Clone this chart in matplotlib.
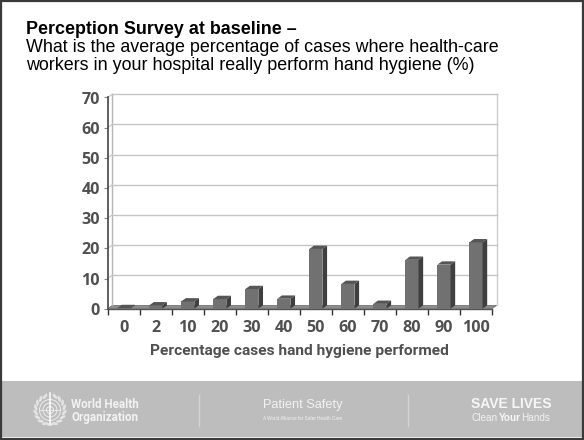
import numpy as np
import matplotlib
matplotlib.use("Agg")
import matplotlib.pyplot as plt
from matplotlib.patches import Rectangle, Circle, Polygon, Ellipse

categories = ['0', '2', '10', '20', '30', '40', '50', '60', '70', '80', '90', '100']
values = [0.2, 1.1, 2.4, 3.2, 6.5, 3.3, 19.8, 8.2, 1.6, 16.2, 14.6, 22.0]
y_ticks = [0, 10, 20, 30, 40, 50, 60, 70]

W, H = 584, 440
DEPTH_X = 0.145   # sideways depth of the 3D look, in category units
DEPTH_Y = 1.1     # upward depth, in percent units
BAR_W = 0.41

fig = plt.figure(figsize=(W / 100, H / 100), dpi=100, facecolor='white')

# slide layer in pixel coordinates
bg = fig.add_axes([0, 0, 1, 1])
bg.set_xlim(0, W)
bg.set_ylim(H, 0)
bg.axis('off')
bg.add_patch(Rectangle((1, 381), W - 2, 56, fc='#bdbdbd', ec='none'))
bg.add_patch(Rectangle((1, 1), W - 2, H - 2, fc='none', ec='#3a3a3a', lw=1.6))
for px in (198.5, 407.5):
    bg.plot([px, px], [395, 426], color='#d4d4d4', lw=1)

sans = 'Liberation Sans'
bg.text(26, 29, 'Perception Survey at baseline \u2013', family=sans, weight='bold',
        fontsize=12.9, va='center', color='black')
bg.text(26, 47, 'What is the average percentage of cases where health-care',
        family=sans, fontsize=12.9, va='center', color='black')
bg.text(26, 65, 'workers in your hospital really perform hand hygiene (%)',
        family=sans, fontsize=12.9, va='center', color='black')

# emblem: wreath, globe and staff
ex, ey = 50, 410
for deg in np.arange(20, 345, 20):
    a = np.radians(deg)
    lx, ly = ex + 14.5 * np.sin(a), ey - 14.5 * np.cos(a)
    bg.add_patch(Ellipse((lx, ly), 2.8, 6.5, angle=deg - 90 + 30 * np.sign(180 - deg),
                         fc='#e4e4e4', ec='none'))
for r in (10.5, 7, 3.5):
    bg.add_patch(Circle((ex, ey), r, fc='none', ec='#eeeeee', lw=0.7))
bg.plot([ex, ex], [ey - 17, ey + 14], color='white', lw=1.1)
bg.plot([ex - 10, ex + 10], [ey, ey], color='#eeeeee', lw=0.6)

bg.text(71, 405, 'World Health', family='Roboto', weight='bold',
        fontsize=8.4, color='#f2f2f2', va='center')
bg.text(71, 417, 'Organization', family='Roboto', weight='bold',
        fontsize=8.4, color='#f2f2f2', va='center')
bg.text(303, 405, 'Patient Safety', family=sans, fontsize=9.2, color='#f2f2f2',
        va='center', ha='center')
bg.text(303, 419, 'A World Alliance for Safer Health Care', family=sans, fontsize=3.3,
        color='#f2f2f2', va='center', ha='center')
bg.text(511, 404, 'SAVE LIVES', family=sans, weight='bold', fontsize=10, color='#f6f6f6',
        va='center', ha='center')
bg.text(472, 418, 'Clean', family=sans, fontsize=7.2, color='#f2f2f2', va='center')
bg.text(499, 418, 'Your', family=sans, weight='bold', fontsize=7.2, color='#f6f6f6', va='center')
bg.text(550, 418, 'Hands', family=sans, fontsize=7.2, color='#f2f2f2', va='center', ha='right')

# chart, front plane
left, right, top, bottom = 107.7, 492.0, 97.5, 308.7
ax = fig.add_axes([left / W, 1 - bottom / H, (right - left) / W, (bottom - top) / H])
ax.patch.set_alpha(0)
n = len(categories)
ax.set_xlim(0, n)
ax.set_ylim(0, 70)
for side in ('top', 'right', 'bottom'):
    ax.spines[side].set_visible(False)
ax.spines['left'].set_color('#444444')
ax.spines['left'].set_linewidth(1.2)

# back wall and floor
ax.plot([DEPTH_X, DEPTH_X], [DEPTH_Y, 70 + DEPTH_Y], color='#b5b5b5', lw=1, clip_on=False)
ax.plot([n + DEPTH_X, n + DEPTH_X], [DEPTH_Y, 70 + DEPTH_Y], color='#cccccc', lw=1, clip_on=False)
ax.add_patch(Polygon([(0, 0), (n, 0), (n + DEPTH_X, DEPTH_Y), (DEPTH_X, DEPTH_Y)],
                     fc='#8c8c8c', ec='#6a6a6a', lw=0.5, clip_on=False))
for t in y_ticks[1:]:
    ax.plot([DEPTH_X, n + DEPTH_X], [t + DEPTH_Y] * 2, color='#c4c4c4', lw=1, clip_on=False)
    ax.plot([0, DEPTH_X], [t, t + DEPTH_Y], color='#c4c4c4', lw=0.8, clip_on=False)

# bars with top and side faces
xs = [i + 0.5 for i in range(n)]
ax.bar(xs, values, width=BAR_W, color='#717171', edgecolor='none', zorder=4, clip_on=False)
for x, v in zip(xs, values):
    x0, x1 = x - BAR_W / 2, x + BAR_W / 2
    ax.add_patch(Polygon([(x0, v), (x1, v), (x1 + DEPTH_X, v + DEPTH_Y), (x0 + DEPTH_X, v + DEPTH_Y)],
                         fc='#555555', ec='none', zorder=4, clip_on=False))
    ax.add_patch(Polygon([(x1, 0), (x1 + DEPTH_X, DEPTH_Y), (x1 + DEPTH_X, v + DEPTH_Y), (x1, v)],
                         fc='#3f3f3f', ec='none', zorder=4, clip_on=False))

ax.plot([0, n], [0, 0], color='#555555', lw=1, zorder=3, clip_on=False)

tick_font = dict(family='Open Sans', weight='bold', fontsize=11.6, color='#505050')
ax.set_yticks(y_ticks)
ax.set_yticklabels([str(t) for t in y_ticks], **tick_font)
ax.tick_params(axis='y', length=3, width=0.8, color='#888888', pad=2.5)
ax.set_xticks(range(n + 1))
ax.set_xticklabels([''] * (n + 1))
ax.tick_params(axis='x', length=4, width=1, color='#333333')
ax.set_xticks(xs, minor=True)
ax.set_xticklabels(categories, minor=True, **tick_font)
ax.tick_params(axis='x', which='minor', length=0, pad=8)
ax.set_xlabel('Percentage cases hand hygiene performed', family='Roboto', weight='bold',
              fontsize=11.15, color='#505050', labelpad=6)

fig.savefig('out.png', dpi=100)
